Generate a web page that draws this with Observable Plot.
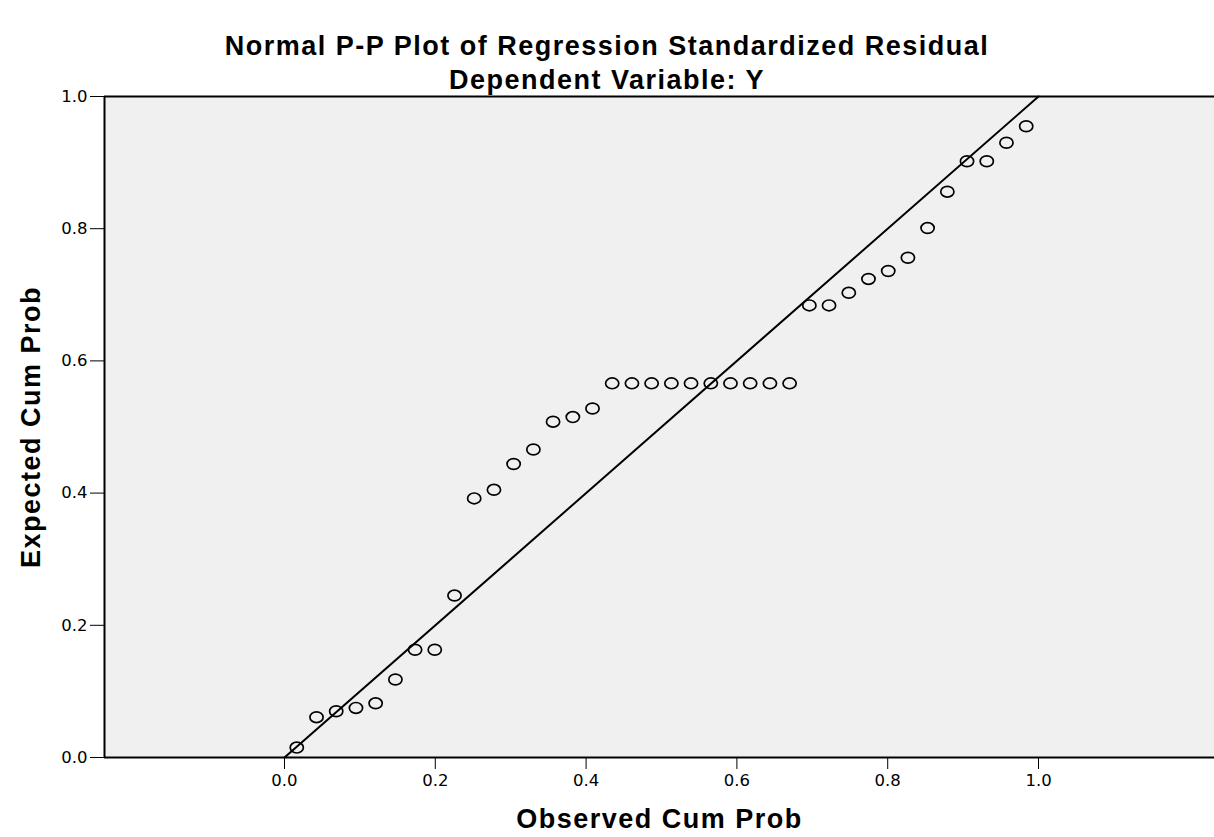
<!DOCTYPE html>
<html>
<head>
<meta charset="utf-8">
<script src="https://cdn.jsdelivr.net/npm/d3@7"></script>
<script src="https://cdn.jsdelivr.net/npm/@observablehq/plot@0.6"></script>
<style>
  body { margin: 0; background: #ffffff; }
  #wrap { position: relative; width: 1214px; height: 837px; overflow: hidden; }
  #chart { position: absolute; left: 0; top: 0; }
  .ttl { position: absolute; left: 0; width: 1214px; text-align: center;
         font-family: "Liberation Sans", Arial, sans-serif; font-weight: bold; color: #000;
         letter-spacing: 1.5px; }
  #title { top: 30px; height: 32px; line-height: 32px; font-size: 27px; }
  #subtitle { top: 64px; height: 32px; line-height: 32px; font-size: 27px; }
</style>
</head>
<body>
<div id="wrap">
  <div id="chart"></div>
  <div id="title" class="ttl">Normal P-P Plot of Regression Standardized Residual</div>
  <div id="subtitle" class="ttl">Dependent Variable: Y</div>
</div>
<script>
// Observed cumulative probability (x) of each residual
const observed = [0.0163, 0.0425, 0.0686, 0.0948, 0.1209, 0.1471, 0.1732, 0.1993, 0.2255, 0.2516,
  0.2778, 0.3039, 0.3301, 0.3562, 0.3824, 0.4085, 0.4346, 0.4608, 0.4869, 0.5131,
  0.5392, 0.5654, 0.5915, 0.6176, 0.6438, 0.6699, 0.6961, 0.7222, 0.7484, 0.7745,
  0.8007, 0.8268, 0.8529, 0.8791, 0.9052, 0.9314, 0.9575, 0.9837];
// Expected cumulative probability (y)
const expected = [0.015, 0.061, 0.070, 0.075, 0.082, 0.118, 0.163, 0.163, 0.245, 0.392,
  0.405, 0.444, 0.466, 0.508, 0.515, 0.528, 0.566, 0.566, 0.566, 0.566,
  0.566, 0.566, 0.566, 0.566, 0.566, 0.566, 0.684, 0.684, 0.703, 0.724,
  0.736, 0.756, 0.801, 0.856, 0.902, 0.902, 0.930, 0.955];
// Reference diagonal
const refX = [0, 1];
const refY = [0, 1];
// Axis ticks and ranges
const xTicks = [0, 0.2, 0.4, 0.6, 0.8, 1.0];
const yTicks = [0, 0.2, 0.4, 0.6, 0.8, 1.0];
const xDomain = [-0.2387, 1.2334];
const yDomain = [0, 1];
const xLabel = "Observed Cum Prob";
const yLabel = "Expected Cum Prob";

const points = observed.map((x, i) => ({x, y: expected[i]}));
const refLine = refX.map((x, i) => ({x, y: refY[i]}));

// slightly flattened open circle, as in the SPSS output
const ellipse = {
  draw(ctx, size) {
    const r = Math.sqrt(size / Math.PI);
    const rx = r * 1.1, ry = r * 0.9, k = 0.5523;
    ctx.moveTo(rx, 0);
    ctx.bezierCurveTo(rx, ry * k, rx * k, ry, 0, ry);
    ctx.bezierCurveTo(-rx * k, ry, -rx, ry * k, -rx, 0);
    ctx.bezierCurveTo(-rx, -ry * k, -rx * k, -ry, 0, -ry);
    ctx.bezierCurveTo(rx * k, -ry, rx, -ry * k, rx, 0);
    ctx.closePath();
  }
};

const titleFont = "'Liberation Sans', Arial, sans-serif";

const chart = Plot.plot({
  width: 1214,
  height: 837,
  marginTop: 96,
  marginBottom: 80,
  marginLeft: 104,
  marginRight: 0,
  style: { fontFamily: "'DejaVu Sans', Verdana, sans-serif", fontSize: "16.5px", color: "#000", background: "transparent" },
  x: { domain: xDomain, ticks: xTicks, tickSize: 12, tickPadding: 5, tickFormat: d3.format(".1f"), label: null },
  y: { domain: yDomain, ticks: yTicks, tickSize: 14, tickPadding: 3, tickFormat: d3.format(".1f"), label: null },
  marks: [
    Plot.frame({ fill: "#f0f0f0", stroke: "none" }),
    Plot.ruleY([yDomain[1]], { stroke: "#000", strokeWidth: 2 }),
    Plot.ruleY([yDomain[0]], { stroke: "#000", strokeWidth: 2 }),
    Plot.ruleX([xDomain[0]], { stroke: "#000", strokeWidth: 2 }),
    Plot.line(refLine, { x: "x", y: "y", stroke: "#000", strokeWidth: 2 }),
    Plot.dot(points, { x: "x", y: "y", r: 6, symbol: ellipse, fill: "none", stroke: "#000", strokeWidth: 1.7 }),
    Plot.text([xLabel], { frameAnchor: "bottom", dy: 62, lineAnchor: "middle", fontSize: 27, fontWeight: "bold",
      textAnchor: "middle", fontFamily: titleFont }),
    Plot.text([yLabel], { frameAnchor: "left", dx: -73, rotate: -90, fontSize: 27, fontWeight: "bold",
      textAnchor: "middle", fontFamily: titleFont })
  ]
});
// letter spacing on axis titles to match the original's wide bold lettering
d3.select(chart).selectAll("text").filter(function () {
  const t = this.textContent; return t === xLabel || t === yLabel;
}).style("letter-spacing", "1.5px");
document.getElementById("chart").appendChild(chart);
</script>
</body>
</html>
